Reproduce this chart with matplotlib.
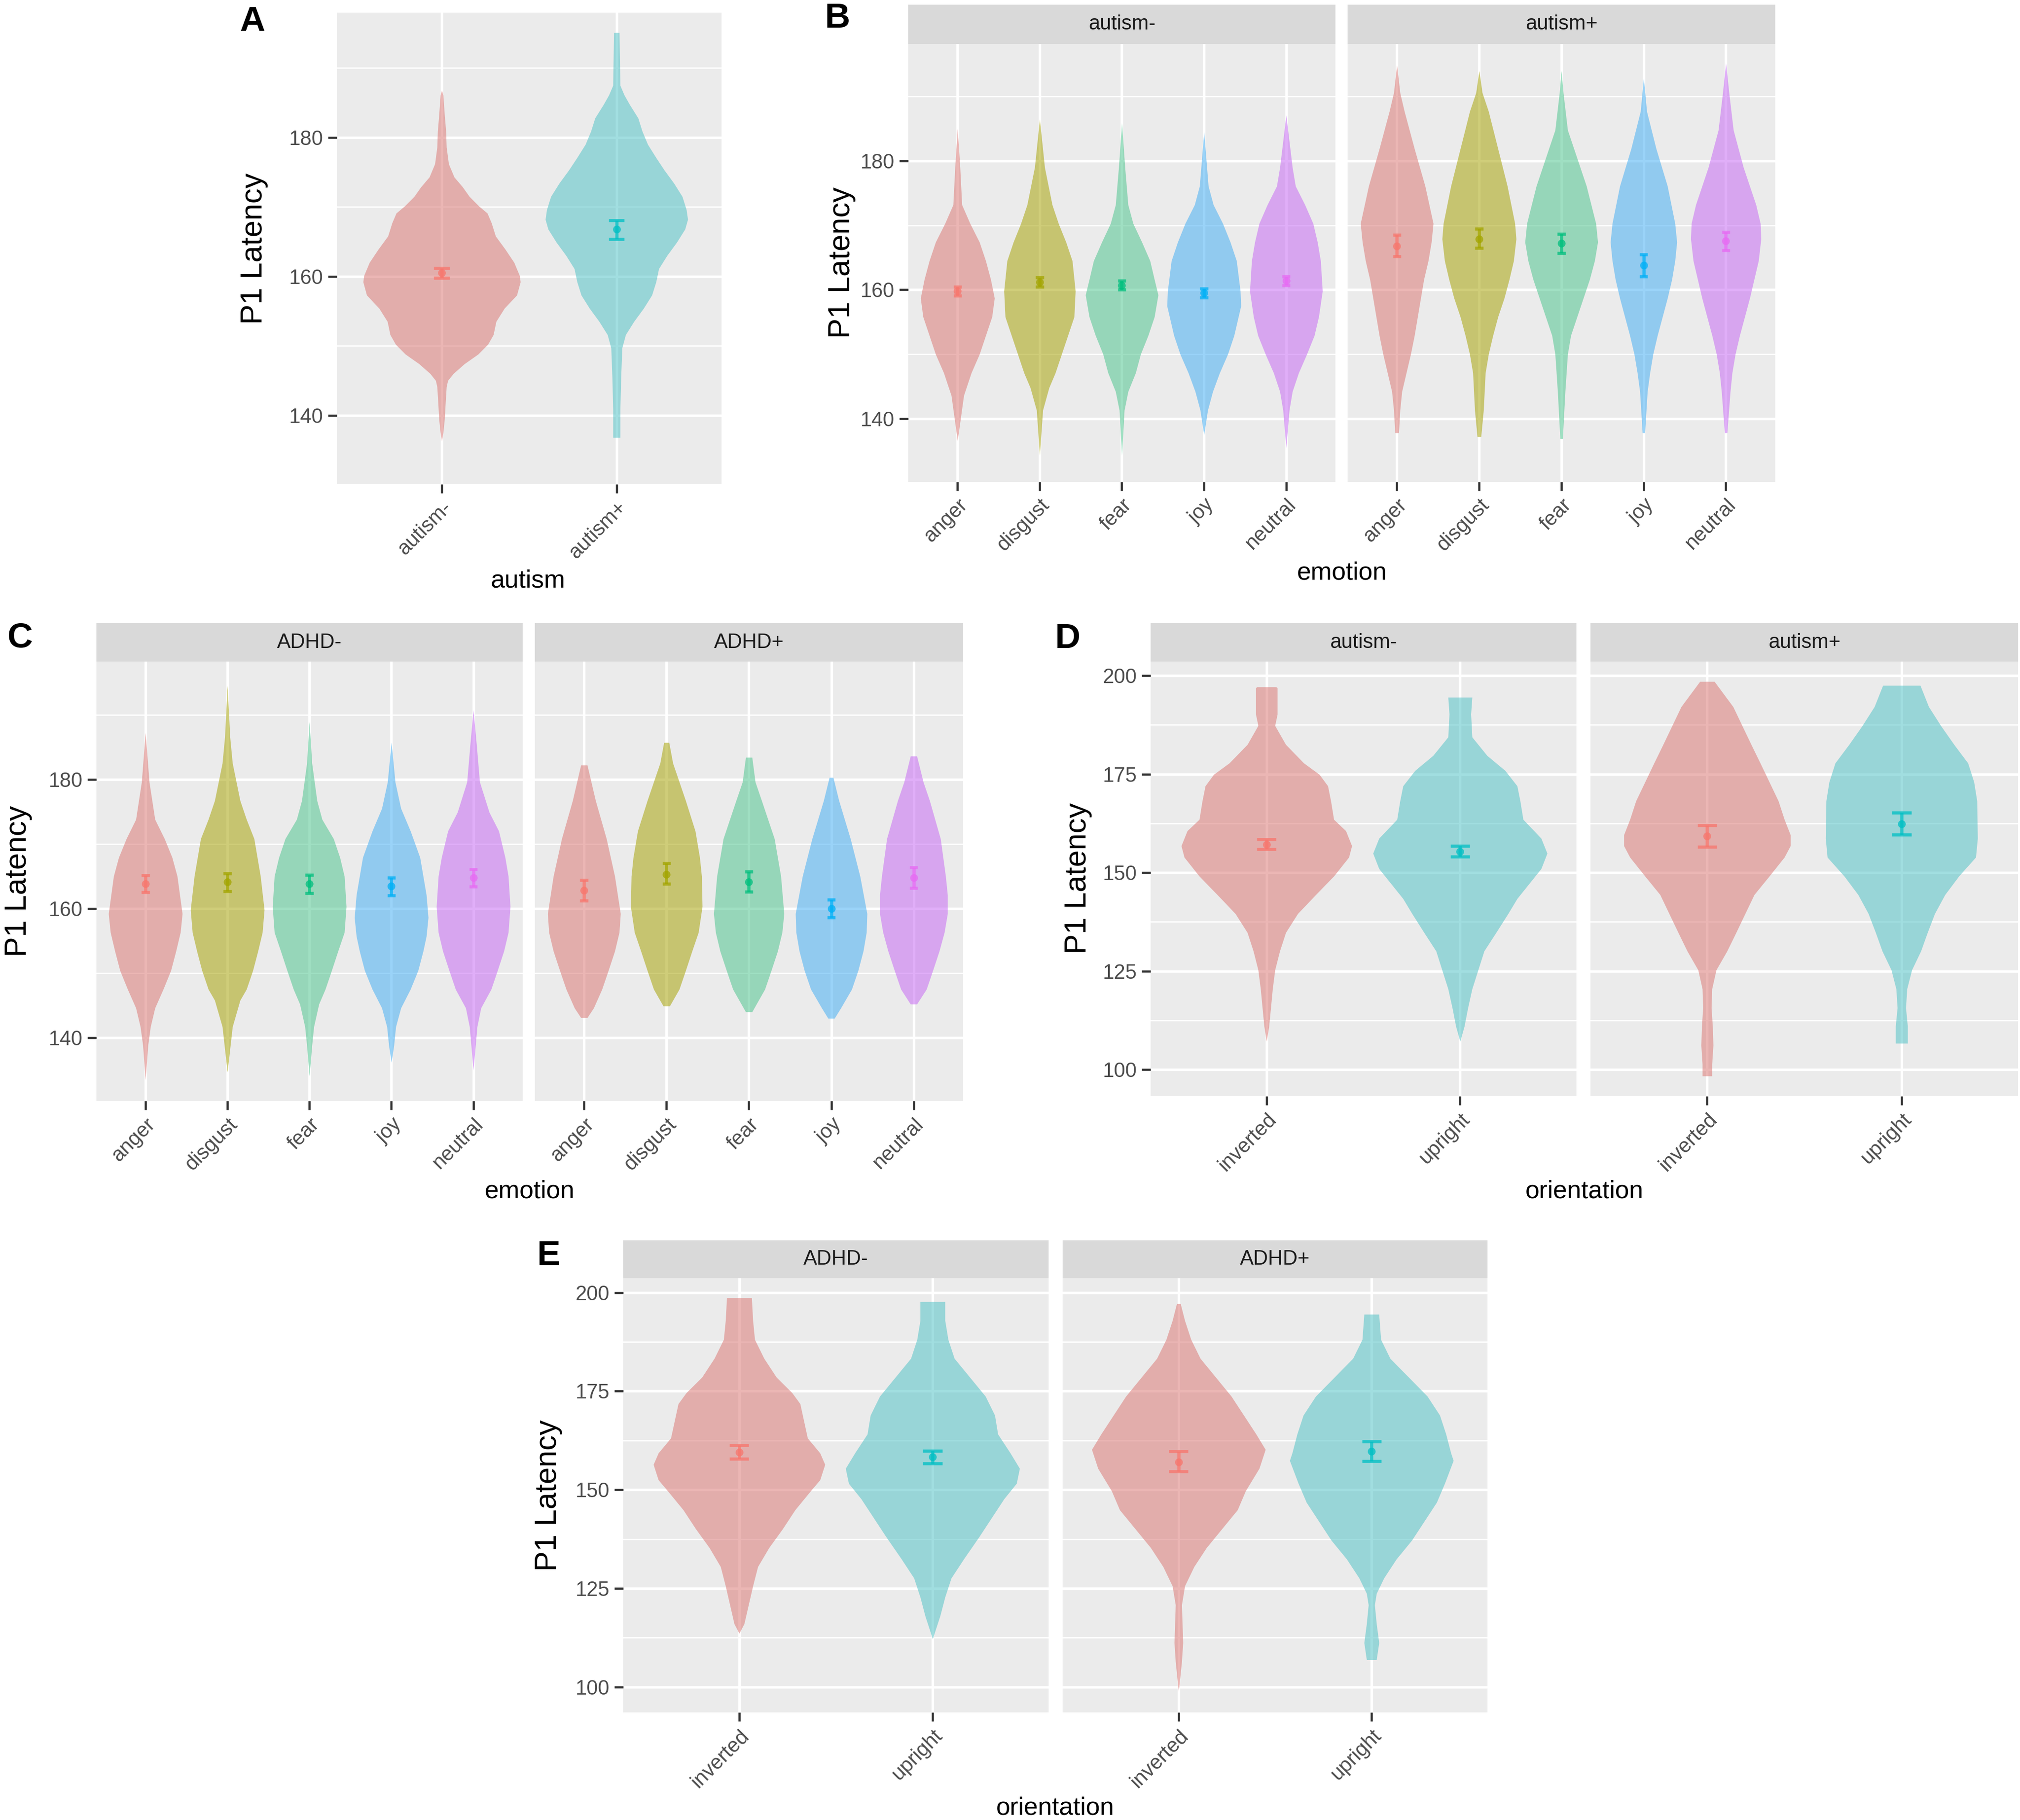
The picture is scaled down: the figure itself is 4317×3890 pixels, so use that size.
import numpy as np
import matplotlib.pyplot as plt

plt.rcParams["font.family"] = ["Liberation Sans", "DejaVu Sans"]

# layout grid (measured on a 1568 x 1413 copy of the reference)
W, H = 1568, 1413

# ggplot hues for the mean/error marks, muted versions for the violin fill
HUE2 = ["#F8766D", "#00BFC4"]
HUE5 = ["#F8766D", "#A3A500", "#00BF7D", "#00B0F6", "#E76BF3"]
FILL2 = ["#DB7A77", "#54C3C7"]
FILL5 = ["#DB7A77", "#A8A40B", "#51C590", "#47AFF4", "#C76CF4"]

# ---------------- data ----------------
# violin outlines: y levels and relative half widths (density)

# panel A
a_groups = ["autism-", "autism+"]
a_y = [
    [186.8, 186.1, 183.3, 180.9, 178.6, 176.2, 174.3, 172.9, 171.5, 170.1, 169.1, 167.7, 165.8,
     163.9, 162.0, 160.1, 159.2, 157.3, 155.4, 153.5, 151.6, 150.2, 148.8, 147.4, 146.0, 145.0,
     144.1, 142.2, 139.4, 137.5, 136.3],
    [195.1, 187.5, 186.1, 184.7, 182.8, 180.9, 179.0, 177.1, 175.3, 173.4, 171.5, 169.6, 168.2,
     166.8, 164.9, 163.0, 161.1, 159.2, 157.3, 155.4, 153.5, 151.6, 149.7, 145.5, 140.8, 136.8],
]
a_w = [
    [0, 5, 10, 15, 17, 25, 45, 75, 100, 135, 165, 180, 195, 230, 262, 282, 285, 272, 227, 197,
     187, 167, 132, 82, 42, 22, 17, 14, 10, 5, 0],
    [10, 13, 28, 48, 78, 93, 113, 143, 173, 208, 238, 253, 258, 248, 218, 183, 153, 143, 128, 98,
     63, 33, 20, 16, 13, 13],
]
a_mean = [160.5, 166.8]
a_lo = [159.8, 165.4]
a_hi = [161.2, 168.1]

emotions = ["anger", "disgust", "fear", "joy", "neutral"]
orientations = ["inverted", "upright"]

# panel B: autism facets x emotion
b_facets = ["autism-", "autism+"]
b_y = {
    "autism-": [
        [185.0, 179.0, 173.2, 170.3, 167.4, 164.5, 161.6, 158.7, 155.8, 152.9, 150.0, 147.1, 143.6, 140.1, 136.6],
        [186.5, 179.0, 173.2, 170.3, 167.4, 164.5, 159.8, 155.8, 152.9, 150.0, 147.1, 144.8, 141.3, 134.3],
        [185.9, 179.0, 173.2, 170.3, 167.4, 164.5, 161.6, 159.2, 155.8, 152.9, 150.0, 147.1, 144.2, 141.3, 134.3],
        [184.5, 176.1, 173.2, 170.3, 167.4, 164.5, 159.8, 157.5, 152.9, 150.0, 147.1, 144.2, 141.3, 137.5],
        [187.1, 179.0, 176.1, 173.2, 170.3, 167.4, 164.5, 159.8, 155.8, 152.9, 150.0, 147.1, 144.2, 141.3, 135.5],
    ],
    "autism+": [
        [194.9, 190.6, 187.7, 181.9, 176.1, 170.3, 167.4, 164.5, 161.6, 158.7, 155.8, 152.9, 150.0, 147.1, 144.2, 141.3, 137.8],
        [194.0, 190.6, 187.7, 181.9, 176.1, 170.3, 167.9, 164.5, 161.6, 158.7, 155.8, 152.9, 150.0, 147.1, 141.3, 137.2],
        [194.0, 190.6, 184.8, 181.9, 176.1, 170.3, 167.4, 164.5, 161.6, 158.7, 155.8, 152.9, 150.0, 144.2, 136.9],
        [192.9, 187.7, 181.9, 176.1, 170.3, 167.4, 164.5, 161.6, 158.7, 155.8, 152.9, 150.0, 147.1, 144.2, 137.8],
        [195.2, 190.6, 184.8, 179.0, 173.2, 170.3, 167.9, 164.5, 161.6, 158.7, 155.8, 152.9, 150.0, 147.1, 144.2, 137.8],
    ],
}
b_w = {
    "autism-": [
        [0, 4, 7, 20, 35, 45, 53, 59, 55, 45, 35, 22, 10, 5, 0],
        [0, 8, 20, 30, 42, 52, 57, 55, 45, 35, 25, 15, 5, 0],
        [0, 5, 10, 18, 32, 45, 52, 58, 52, 42, 30, 22, 10, 4, 0],
        [0, 7, 15, 30, 42, 52, 58, 59, 48, 38, 25, 14, 6, 0],
        [0, 10, 15, 30, 43, 50, 55, 58, 52, 45, 33, 20, 10, 5, 0],
    ],
    "autism+": [
        [0, 5, 12, 28, 45, 58, 55, 50, 43, 38, 33, 28, 22, 15, 8, 5, 3],
        [0, 5, 15, 30, 45, 57, 59, 55, 48, 40, 30, 22, 15, 10, 7, 3],
        [0, 3, 10, 20, 40, 55, 58, 53, 45, 35, 25, 15, 10, 6, 2],
        [0, 5, 20, 38, 50, 53, 50, 45, 38, 30, 22, 15, 10, 6, 2],
        [0, 5, 12, 28, 48, 55, 56, 52, 45, 38, 30, 22, 15, 10, 7, 2],
    ],
}
b_mean = {"autism-": [159.8, 161.2, 160.7, 159.5, 161.4],
          "autism+": [166.8, 167.9, 167.2, 163.8, 167.6]}
b_lo = {"autism-": [159.1, 160.5, 160.0, 158.8, 160.7],
        "autism+": [165.2, 166.5, 165.7, 162.1, 166.1]}
b_hi = {"autism-": [160.5, 161.9, 161.4, 160.2, 162.1],
        "autism+": [168.5, 169.5, 168.7, 165.5, 169.0]}

# panel C: ADHD facets x emotion
c_facets = ["ADHD-", "ADHD+"]
c_y = {
    "ADHD-": [
        [187.2, 179.6, 173.8, 170.8, 167.9, 165.0, 159.2, 156.3, 153.4, 150.4, 147.5, 144.6, 141.7, 138.8, 133.5],
        [194.5, 186.6, 182.5, 176.7, 173.8, 170.8, 165.0, 159.8, 156.3, 153.4, 150.4, 147.5, 145.8, 141.7, 134.7],
        [188.9, 182.5, 176.7, 173.8, 170.8, 167.9, 165.0, 160.3, 156.3, 153.4, 150.4, 147.5, 145.2, 141.7, 138.8, 134.1],
        [185.7, 179.6, 175.5, 172.0, 167.9, 162.1, 158.6, 155.7, 153.4, 150.4, 147.5, 144.6, 141.7, 138.8, 136.2],
        [190.7, 185.4, 179.6, 174.9, 172.0, 167.9, 165.0, 160.3, 156.3, 153.4, 150.4, 147.5, 144.6, 141.7, 135.0],
    ],
    "ADHD+": [
        [182.2, 176.7, 170.8, 165.0, 159.2, 156.3, 153.4, 150.4, 147.5, 144.6, 143.1],
        [185.7, 182.5, 176.7, 172.0, 167.9, 165.0, 160.3, 156.3, 153.4, 150.4, 147.5, 144.9],
        [183.4, 179.6, 176.7, 170.8, 165.0, 159.2, 156.3, 153.4, 150.4, 147.5, 144.0],
        [180.3, 176.7, 170.8, 165.0, 159.2, 156.3, 153.4, 150.4, 147.5, 144.6, 143.0],
        [183.6, 179.6, 176.7, 170.8, 165.0, 162.1, 159.2, 156.3, 153.4, 150.4, 147.5, 145.2],
    ],
}
c_w = {
    "ADHD-": [
        [0, 6, 15, 30, 42, 50, 58, 55, 48, 40, 28, 15, 8, 4, 0],
        [0, 4, 8, 20, 30, 42, 52, 58, 55, 48, 40, 30, 20, 8, 0],
        [0, 4, 12, 20, 38, 48, 55, 58, 55, 45, 35, 25, 15, 7, 4, 0],
        [0, 6, 15, 30, 45, 55, 58, 55, 50, 42, 30, 15, 7, 4, 0],
        [0, 5, 10, 25, 40, 50, 55, 58, 55, 48, 38, 28, 12, 6, 0],
    ],
    "ADHD+": [
        [5, 18, 35, 48, 57, 55, 48, 38, 28, 15, 5],
        [4, 10, 30, 45, 52, 55, 56, 50, 40, 30, 20, 5],
        [5, 10, 20, 40, 50, 55, 52, 45, 35, 25, 5],
        [3, 12, 30, 45, 56, 55, 50, 42, 32, 15, 5],
        [5, 15, 25, 42, 50, 53, 53, 48, 40, 30, 20, 5],
    ],
}
c_mean = {"ADHD-": [163.8, 164.1, 163.8, 163.5, 164.8],
          "ADHD+": [162.8, 165.3, 164.1, 160.0, 164.8]}
c_lo = {"ADHD-": [162.5, 162.7, 162.4, 162.0, 163.4],
        "ADHD+": [161.2, 163.8, 162.6, 158.6, 163.2]}
c_hi = {"ADHD-": [165.1, 165.4, 165.2, 164.8, 166.1],
        "ADHD+": [164.4, 167.0, 165.7, 161.4, 166.4]}

# panel D: autism facets x orientation
d_facets = ["autism-", "autism+"]
d_y = {
    "autism-": [
        [197.1, 196.9, 190.2, 187.3, 182.5, 177.8, 174.9, 172.0, 168.2, 163.5, 160.6, 156.8, 153.9,
         149.1, 144.4, 139.6, 134.8, 130.1, 125.3, 120.5, 115.7, 111.0, 107.2],
        [194.5, 190.2, 184.4, 179.7, 175.9, 172.0, 168.2, 163.5, 158.7, 154.9, 151.0, 147.2, 143.4,
         139.6, 134.8, 130.1, 125.3, 120.5, 115.7, 111.0, 107.2],
    ],
    "autism+": [
        [198.5, 192.1, 187.3, 182.5, 177.8, 173.0, 168.2, 163.5, 159.6, 156.8, 153.9, 149.1, 144.4,
         139.6, 134.8, 130.1, 125.3, 120.5, 115.7, 111.0, 106.2, 101.4, 98.4],
        [197.5, 192.1, 187.3, 182.5, 177.8, 173.0, 168.2, 158.7, 153.9, 149.1, 144.4, 139.6, 134.8,
         130.1, 125.3, 120.5, 115.7, 111.0, 106.7],
    ],
}
d_w = {
    "autism-": [
        [16, 18, 18, 14, 32, 62, 88, 102, 107, 112, 132, 142, 137, 112, 82, 52, 32, 22, 14, 10, 7, 4, 0],
        [20, 18, 20, 45, 75, 95, 100, 105, 135, 145, 135, 115, 95, 80, 60, 40, 30, 20, 13, 7, 0],
    ],
    "autism+": [
        [12, 43, 58, 73, 88, 103, 118, 128, 138, 138, 128, 103, 78, 63, 48, 33, 15, 8, 7, 9, 10, 8, 8],
        [31, 45, 65, 87, 110, 120, 125, 126, 123, 95, 72, 55, 43, 32, 17, 9, 7, 10, 10],
    ],
}
d_mean = {"autism-": [157.2, 155.4], "autism+": [159.3, 162.4]}
d_lo = {"autism-": [156.0, 154.1], "autism+": [156.6, 159.6]}
d_hi = {"autism-": [158.5, 156.8], "autism+": [162.0, 165.2]}

# panel E: ADHD facets x orientation
e_facets = ["ADHD-", "ADHD+"]
e_y = {
    "ADHD-": [
        [198.7, 192.9, 188.1, 183.3, 178.5, 174.6, 171.8, 168.9, 163.1, 159.3, 156.4, 152.5, 149.7,
         144.9, 140.1, 135.3, 130.5, 125.6, 120.8, 116.0, 113.6],
        [197.7, 192.9, 188.1, 183.3, 178.5, 173.7, 168.9, 164.1, 159.3, 155.4, 151.6, 147.7, 142.9,
         138.1, 132.4, 127.6, 122.8, 118.0, 112.2],
    ],
    "ADHD+": [
        [197.2, 192.9, 188.1, 183.3, 178.5, 173.7, 168.9, 164.1, 160.2, 155.4, 149.7, 144.9, 140.1,
         135.3, 130.5, 125.6, 120.8, 116.0, 111.2, 106.4, 98.8],
        [194.5, 188.1, 183.3, 178.5, 173.7, 168.9, 164.1, 159.3, 157.4, 151.6, 146.8, 142.0, 137.2,
         132.4, 127.6, 123.7, 120.8, 116.0, 111.2, 106.9],
    ],
}
e_w = {
    "ADHD-": [
        [20, 22, 25, 40, 60, 85, 98, 102, 110, 130, 138, 130, 115, 90, 70, 48, 30, 22, 15, 8, 0],
        [20, 20, 25, 35, 60, 85, 100, 105, 125, 140, 135, 115, 95, 75, 50, 30, 20, 12, 0],
    ],
    "ADHD+": [
        [3, 10, 20, 35, 60, 85, 105, 125, 140, 130, 108, 95, 70, 45, 25, 10, 5, 6, 7, 5, 0],
        [12, 15, 30, 60, 90, 110, 120, 128, 132, 118, 105, 85, 65, 40, 20, 8, 5, 8, 12, 8],
    ],
}
e_mean = {"ADHD-": [159.5, 158.3], "ADHD+": [157.0, 159.7]}
e_lo = {"ADHD-": [157.8, 156.7], "ADHD+": [154.6, 157.3]}
e_hi = {"ADHD-": [161.3, 159.9], "ADHD+": [159.7, 162.2]}


def box(x0, x1, y0, y1):
    return [x0 / W, 1 - y1 / H, (x1 - x0) / W, (y1 - y0) / H]


def style(ax, cats, ylim, majors, minors, ylabels=True):
    ax.set_facecolor("#EBEBEB")
    ax.set_xlim(0.4, len(cats) + 0.6)
    ax.set_ylim(*ylim)
    ax.set_yticks(majors)
    ax.set_yticks(minors, minor=True)
    ax.set_xticks(range(1, len(cats) + 1))
    ax.set_xticklabels(cats, rotation=45, ha="right", rotation_mode="anchor")
    ax.grid(which="major", color="white", lw=1.3)
    ax.grid(which="minor", axis="y", color="white", lw=0.65)
    ax.set_axisbelow(True)
    for s in ax.spines.values():
        s.set_visible(False)
    ax.tick_params(which="major", length=4.5, width=1.1, color="#333333",
                   labelsize=10.5, labelcolor="#4D4D4D", pad=2.5)
    ax.tick_params(which="minor", length=0)
    if not ylabels:
        ax.tick_params(axis="y", which="both", left=False, labelleft=False)


def draw(ax, ys, ws, means, lo, hi, fills, colors, scale, cap):
    for i, (y, w) in enumerate(zip(ys, ws)):
        x = i + 1
        half = np.asarray(w, dtype=float) * scale
        ax.fill_betweenx(y, x - half, x + half, color=fills[i], alpha=0.55, lw=0, zorder=2)
        ax.vlines(x, lo[i], hi[i], color=colors[i], lw=1.6, alpha=0.75, zorder=3)
        ax.hlines([lo[i], hi[i]], x - cap, x + cap, color=colors[i], lw=1.6, alpha=0.75, zorder=3)
        ax.plot(x, means[i], "o", color=colors[i], ms=4, alpha=0.75, mew=0, zorder=4)


def strip(fig, rect, label):
    s = fig.add_axes(rect)
    s.set_facecolor("#D9D9D9")
    s.set_xticks([])
    s.set_yticks([])
    for sp in s.spines.values():
        sp.set_visible(False)
    s.text(0.5, 0.5, label, ha="center", va="center", fontsize=10.5, color="#1A1A1A",
           transform=s.transAxes)


def facet_panel(fig, cats, facets, ys, ws, means, lo, hi, fills, colors, xs, y_strip, y_plot,
                ylim, majors, minors):
    scale = 0.45 / max(max(max(w) for w in ws[f]) for f in facets)
    for k, f in enumerate(facets):
        x0, x1 = xs[k]
        ax = fig.add_axes(box(x0, x1, *y_plot))
        style(ax, cats, ylim, majors, minors, ylabels=(k == 0))
        draw(ax, ys[f], ws[f], means[f], lo[f], hi[f], fills, colors, scale, 0.05)
        strip(fig, box(x0, x1, *y_strip), f)


fig = plt.figure(figsize=(4317 / 300, 3890 / 300), dpi=300)

# A
ax = fig.add_axes(box(261.5, 560, 9.7, 375.8))
style(ax, a_groups, (130.1, 198.0), [140, 160, 180], [150, 170, 190])
draw(ax, a_y, a_w, a_mean, a_lo, a_hi, FILL2, HUE2, 0.45 / max(max(w) for w in a_w), 0.045)

# B
facet_panel(fig, emotions, b_facets, b_y, b_w, b_mean, b_lo, b_hi, FILL5, HUE5,
            [(705, 1036.6), (1046, 1378)], (3.5, 34), (34, 374), (130.2, 198.2),
            [140, 160, 180], [150, 170, 190])
# C
facet_panel(fig, emotions, c_facets, c_y, c_w, c_mean, c_lo, c_hi, FILL5, HUE5,
            [(74.7, 405.6), (415, 747.6)], (484, 513.8), (513.8, 854.8), (130.2, 198.2),
            [140, 160, 180], [150, 170, 190])
# D
facet_panel(fig, orientations, d_facets, d_y, d_w, d_mean, d_lo, d_hi, FILL2, HUE2,
            [(893, 1223.5), (1234.6, 1566.6)], (484, 513.8), (513.8, 851), (93.3, 203.5),
            [100, 125, 150, 175, 200], [112.5, 137.5, 162.5, 187.5])
# E
facet_panel(fig, orientations, e_facets, e_y, e_w, e_mean, e_lo, e_hi, FILL2, HUE2,
            [(483.7, 814), (825, 1154.5)], (962.8, 992.2), (992.2, 1329.6), (93.5, 203.7),
            [100, 125, 150, 175, 200], [112.5, 137.5, 162.5, 187.5])

# axis titles
for x, y in [(197.3, 193), (653.6, 204), (14, 684), (836.8, 682), (425.6, 1161)]:
    fig.text(x / W, 1 - y / H, "P1 Latency", rotation=90, ha="center", va="center",
             fontsize=15.5, color="black")
for x, y, t in [(410, 456, "autism"), (1041.5, 450, "emotion"), (411, 930, "emotion"),
                (1230, 930, "orientation"), (819, 1409, "orientation")]:
    fig.text(x / W, 1 - y / H, t, ha="center", va="baseline", fontsize=13, color="black")

# panel letters
for x, y, t in [(195.8, 17, "A"), (650, 14.5, "B"), (15.6, 495.5, "C"), (829, 496, "D"),
                (426, 975, "E")]:
    fig.text(x / W, 1 - y / H, t, ha="center", va="center", fontsize=18, fontweight="bold")

fig.savefig("out.png", dpi=300, facecolor="white")
